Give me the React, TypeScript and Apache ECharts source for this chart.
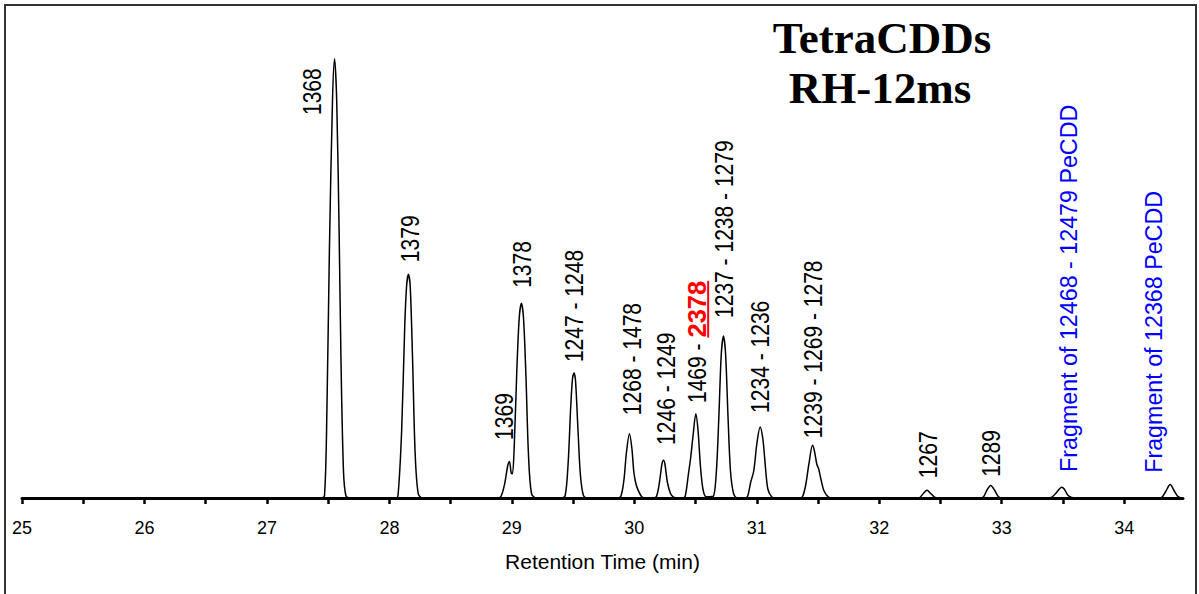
import React, { useEffect, useRef } from "react";
import * as echarts from "echarts";

// Chromatogram trace (retention time in min, detector signal in % of full scale)
const retentionTime = [
  25.0, 27.44, 27.47, 27.49, 27.51, 27.535, 27.552, 27.57, 27.59, 27.605, 27.625, 27.645, 27.68,
  28.05, 28.07, 28.1, 28.125, 28.14, 28.155, 28.17, 28.19, 28.21, 28.235, 28.27,
  28.88, 28.91, 28.94, 28.965, 28.98, 28.995, 29.005, 29.02, 29.04, 29.06, 29.078, 29.095, 29.115, 29.135, 29.16, 29.2,
  29.4, 29.435, 29.46, 29.48, 29.495, 29.508, 29.52, 29.54, 29.56, 29.585, 29.62,
  29.86, 29.89, 29.915, 29.935, 29.96, 29.98, 29.995, 30.01, 30.03, 30.06, 30.09,
  30.15, 30.18, 30.205, 30.225, 30.238, 30.25, 30.27, 30.295, 30.32, 30.35,
  30.39, 30.415, 30.44, 30.46, 30.48, 30.502, 30.52, 30.54, 30.56, 30.585, 30.61,
  30.645, 30.67, 30.69, 30.71, 30.728, 30.745, 30.765, 30.785, 30.81, 30.84,
  30.9, 30.925, 30.95, 30.975, 31.0, 31.027, 31.05, 31.07, 31.09, 31.12, 31.15,
  31.35, 31.375, 31.4, 31.425, 31.455, 31.47, 31.49, 31.505, 31.525, 31.55, 31.585, 31.62,
  32.3, 32.33, 32.36, 32.39, 32.42, 32.45, 32.48,
  32.82, 32.85, 32.88, 32.91, 32.94, 32.97, 33.0,
  33.38, 33.41, 33.44, 33.47, 33.49, 33.51, 33.54, 33.57, 33.6,
  34.28, 34.31, 34.34, 34.375, 34.41, 34.44, 34.47, 34.48,
];

const signal = [
  0, 0, 0.5, 20, 55, 88, 97.6, 88, 58, 30, 6, 0.5, 0,
  0, 0.5, 15, 38, 47, 49.7, 47, 30, 10, 1, 0,
  0, 0.3, 3, 7, 8.1, 5.5, 5.4, 12, 28, 40, 43.3, 40, 27, 10, 1, 0,
  0, 0.5, 8, 20, 26.5, 27.8, 26, 15, 5, 0.5, 0,
  0, 0.4, 4, 10, 14.3, 11, 6, 3.5, 1.8, 0.3, 0,
  0, 0.3, 3.5, 7.5, 8.4, 7.5, 3.5, 1, 0.2, 0,
  0, 0.4, 5, 9, 14, 18.7, 15, 7, 2, 0.3, 0.3,
  0.4, 6, 18, 32, 36, 32, 18, 6, 1, 0,
  0, 0.4, 3.5, 6, 12, 15.8, 13, 7, 2, 0.3, 0,
  0, 0.4, 3, 7.5, 11.7, 10.5, 7.5, 6.5, 4, 1.5, 0.2, 0,
  0, 0.1, 1.0, 1.7, 1.0, 0.2, 0,
  0, 0.2, 1.8, 2.8, 1.8, 0.4, 0,
  0, 0.2, 1.0, 2.0, 2.4, 2.0, 0.6, 0.1, 0,
  0, 0.2, 1.5, 3.0, 1.5, 0.3, 0, 0,
];

// Peak annotations: congener names, where each label starts (time, signal level)
const peakNames = [
  "1368", "1379", "1369", "1378", "1247 - 1248", "1268 - 1478", "1246 - 1249",
  "1469 - 2378", "1237 - 1238 - 1279", "1234 - 1236", "1239 - 1269 - 1278",
  "1267", "1289", "Fragment of 12468 - 12479 PeCDD", "Fragment of 12368 PeCDD",
];
const labelTime = [
  27.369, 28.169, 28.937, 29.084, 29.508, 29.982, 30.26,
  30.513, 30.733, 31.027, 31.46,
  32.4, 32.914, 33.543, 34.237,
];
const labelLevel = [
  85.1, 52.4, 12.9, 46.7, 30.2, 18.4, 11.8,
  21.1, 40, 18.9, 13.3,
  4.4, 4.7, 5.8, 5.6,
];
const labelKind = [
  "tcdd", "tcdd", "tcdd", "tcdd", "tcdd", "tcdd", "tcdd",
  "tcdd", "tcdd", "tcdd", "tcdd",
  "tcdd", "tcdd", "fragment", "fragment",
];
const toxicCongener = "2378";

// X axis ticks and labels
const xTicks = [25, 25.5, 26, 26.5, 27, 27.5, 28, 28.5, 29, 29.5, 30, 30.5, 31, 31.5, 32, 32.5, 33, 33.5, 34];
const xTickLabels = [25, 26, 27, 28, 29, 30, 31, 32, 33, 34];

const titleLines = ["TetraCDDs", "RH-12ms"];

const SANS = "'Liberation Sans', Arial, sans-serif";
// Narrow-set annotation text: Arial-sized glyphs squeezed horizontally
const LABEL_STYLES: Record<string, { size: number; stretch: number; color: string }> = {
  tcdd: { size: 25.5, stretch: 0.825, color: "#000000" },
  fragment: { size: 24.5, stretch: 0.95, color: "#0000ff" },
};
const HIGHLIGHT_COLOR = "#ff0000";

let measureCtx: CanvasRenderingContext2D | null = null;
function textWidth(text: string, size: number, weight: string): number {
  if (!measureCtx) measureCtx = document.createElement("canvas").getContext("2d");
  if (!measureCtx) return text.length * size * 0.556;
  measureCtx.font = `${weight} ${size}px ${SANS}`;
  return measureCtx.measureText(text).width;
}

export default function App() {
  const ref = useRef<HTMLDivElement>(null);

  useEffect(() => {
    if (!ref.current) return;
    const chart = echarts.init(ref.current, null, { renderer: "svg" });

    const trace = retentionTime.map((t, i) => [t, signal[i]]);
    const labelData = peakNames.map((_, i) => [labelTime[i], labelLevel[i]]);

    const renderLabel = (params: any, api: any) => {
      const i = params.dataIndex;
      const p = api.coord([api.value(0), api.value(1)]);
      const name = peakNames[i];
      const st = LABEL_STYLES[labelKind[i]];
      const base = {
        fontSize: st.size,
        fontFamily: SANS,
        align: "left",
        verticalAlign: "middle",
      };
      const children: any[] = [];
      const k = name.indexOf(toxicCongener);
      if (k > 0) {
        const prefix = name.slice(0, k);
        const preW = textWidth(prefix, st.size, "normal") * st.stretch;
        const hlW = textWidth(toxicCongener, st.size, "bold");
        children.push(
          { type: "text", x: 0, y: 0, scaleX: st.stretch, style: { ...base, text: prefix, fill: st.color } },
          {
            type: "text",
            x: preW,
            y: 0,
            style: { ...base, text: toxicCongener, fontWeight: "bold", fill: HIGHLIGHT_COLOR },
          },
          {
            type: "line",
            shape: { x1: preW, y1: 11, x2: preW + hlW, y2: 11 },
            style: { stroke: HIGHLIGHT_COLOR, lineWidth: 2 },
          }
        );
      } else {
        children.push({
          type: "text",
          x: 0,
          y: 0,
          scaleX: st.stretch,
          style: { ...base, text: name, fill: st.color },
        });
      }
      return { type: "group", x: p[0], y: p[1], rotation: Math.PI / 2, children };
    };

    chart.setOption({
      animation: false,
      backgroundColor: "#fff",
      grid: { left: 22, right: 16, top: 48, bottom: 96 },
      xAxis: {
        type: "value",
        min: 25,
        max: 34.48,
        axisLine: { onZero: false, lineStyle: { color: "#000", width: 3 } },
        axisTick: { customValues: xTicks, length: 6, lineStyle: { color: "#000", width: 2.5 } },
        axisLabel: {
          customValues: xTickLabels,
          margin: 21,
          color: "#000",
          fontSize: 18,
          fontFamily: SANS,
          formatter: (v: number) => String(v),
        },
        splitLine: { show: false },
        name: "Retention Time (min)",
        nameLocation: "middle",
        nameGap: 53,
        nameTextStyle: { color: "#000", fontSize: 21, fontFamily: SANS },
      },
      yAxis: { type: "value", min: 0, max: 100, show: false },
      series: [
        {
          type: "line",
          data: trace,
          showSymbol: false,
          smooth: 0.3,
          lineStyle: { color: "#000", width: 1.5 },
          z: 3,
        },
        {
          type: "custom",
          data: labelData,
          renderItem: renderLabel,
          silent: true,
          z: 4,
        },
      ],
      graphic: [
        {
          id: "frame",
          type: "rect",
          silent: true,
          shape: { x: 5, y: 5, width: 1191, height: 640 },
          style: { fill: "none", stroke: "#333", lineWidth: 2 },
        },
        {
          id: "title1",
          type: "text",
          x: 882,
          y: 38,
          style: {
            text: titleLines[0],
            fontFamily: "'Liberation Serif', 'Times New Roman', serif",
            fontWeight: "bold",
            fontSize: 45,
            align: "center",
            verticalAlign: "middle",
            fill: "#000",
          },
        },
        {
          id: "title2",
          type: "text",
          x: 880,
          y: 88,
          style: {
            text: titleLines[1],
            fontFamily: "'Liberation Serif', 'Times New Roman', serif",
            fontWeight: "bold",
            fontSize: 45,
            align: "center",
            verticalAlign: "middle",
            fill: "#000",
          },
        },
      ],
    });

    return () => chart.dispose();
  }, []);

  return (
    <div
      ref={ref}
      style={{ position: "absolute", left: 0, top: 0, width: 1199, height: 594 }}
    />
  );
}
